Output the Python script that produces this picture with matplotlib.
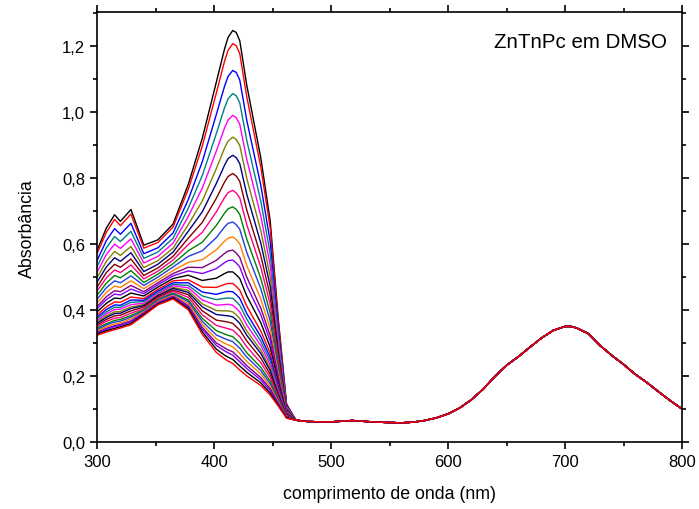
import matplotlib
matplotlib.use('Agg')
import matplotlib.pyplot as plt
import numpy as np
from matplotlib.ticker import MultipleLocator, FuncFormatter

plt.rcParams['font.family'] = ['Liberation Sans', 'DejaVu Sans']

# wavelengths (nm) where the 30 spectra differ (Soret / UV region)
wl_uv = [300, 308, 315, 320, 329, 340, 352, 365, 378, 390,
         402, 409, 412, 416, 419, 422, 428, 440, 448, 455, 462]

# absorbance of spectra 1..30 at each UV wavelength
abs_300 = [0.580, 0.570, 0.549, 0.531, 0.514, 0.498, 0.484, 0.469, 0.457, 0.444,
           0.432, 0.421, 0.410, 0.403, 0.394, 0.385, 0.378, 0.373, 0.368, 0.363,
           0.359, 0.354, 0.349, 0.344, 0.340, 0.336, 0.332, 0.329, 0.326, 0.323]
abs_308 = [0.648, 0.635, 0.610, 0.588, 0.568, 0.547, 0.530, 0.513, 0.497, 0.481,
           0.467, 0.453, 0.440, 0.431, 0.420, 0.409, 0.401, 0.394, 0.388, 0.382,
           0.377, 0.371, 0.365, 0.358, 0.354, 0.349, 0.344, 0.341, 0.337, 0.333]
abs_315 = [0.688, 0.674, 0.646, 0.622, 0.599, 0.577, 0.558, 0.538, 0.521, 0.504,
           0.488, 0.472, 0.458, 0.448, 0.436, 0.424, 0.415, 0.408, 0.401, 0.394,
           0.389, 0.382, 0.375, 0.368, 0.363, 0.357, 0.352, 0.349, 0.344, 0.340]
abs_320 = [0.668, 0.655, 0.629, 0.607, 0.586, 0.565, 0.547, 0.529, 0.513, 0.497,
           0.482, 0.468, 0.455, 0.445, 0.434, 0.423, 0.414, 0.408, 0.402, 0.395,
           0.390, 0.384, 0.377, 0.371, 0.366, 0.361, 0.356, 0.353, 0.349, 0.345]
abs_329 = [0.704, 0.690, 0.662, 0.638, 0.615, 0.592, 0.573, 0.554, 0.536, 0.519,
           0.503, 0.488, 0.474, 0.463, 0.451, 0.439, 0.430, 0.423, 0.416, 0.409,
           0.404, 0.397, 0.390, 0.383, 0.378, 0.373, 0.367, 0.364, 0.359, 0.355]
abs_340 = [0.596, 0.587, 0.570, 0.556, 0.542, 0.528, 0.516, 0.504, 0.494, 0.483,
           0.474, 0.464, 0.455, 0.449, 0.442, 0.434, 0.429, 0.425, 0.420, 0.416,
           0.413, 0.409, 0.404, 0.400, 0.397, 0.394, 0.391, 0.388, 0.386, 0.383]
abs_352 = [0.612, 0.604, 0.588, 0.575, 0.562, 0.549, 0.538, 0.527, 0.517, 0.508,
           0.499, 0.490, 0.482, 0.476, 0.469, 0.462, 0.457, 0.453, 0.450, 0.446,
           0.443, 0.439, 0.435, 0.431, 0.428, 0.425, 0.422, 0.420, 0.417, 0.415]
abs_365 = [0.660, 0.651, 0.633, 0.617, 0.602, 0.587, 0.575, 0.562, 0.551, 0.540,
           0.530, 0.519, 0.510, 0.503, 0.495, 0.488, 0.482, 0.477, 0.473, 0.468,
           0.465, 0.460, 0.456, 0.451, 0.448, 0.444, 0.441, 0.439, 0.436, 0.433]
abs_378 = [0.780, 0.765, 0.734, 0.708, 0.683, 0.658, 0.638, 0.617, 0.598, 0.579,
           0.562, 0.544, 0.529, 0.518, 0.505, 0.491, 0.482, 0.474, 0.467, 0.459,
           0.453, 0.446, 0.438, 0.430, 0.425, 0.419, 0.413, 0.410, 0.405, 0.400]
abs_390 = [0.920, 0.896, 0.849, 0.807, 0.769, 0.730, 0.697, 0.665, 0.635, 0.605,
           0.579, 0.552, 0.528, 0.510, 0.489, 0.469, 0.454, 0.442, 0.430, 0.418,
           0.409, 0.397, 0.385, 0.374, 0.365, 0.356, 0.347, 0.341, 0.333, 0.326]
abs_402 = [1.090, 1.057, 0.992, 0.934, 0.881, 0.828, 0.783, 0.738, 0.697, 0.656,
           0.619, 0.582, 0.550, 0.525, 0.496, 0.468, 0.447, 0.431, 0.414, 0.398,
           0.386, 0.369, 0.353, 0.337, 0.324, 0.312, 0.300, 0.292, 0.281, 0.271]
abs_409 = [1.190, 1.153, 1.077, 1.012, 0.951, 0.890, 0.838, 0.787, 0.740, 0.693,
           0.651, 0.608, 0.571, 0.543, 0.510, 0.477, 0.454, 0.435, 0.416, 0.397,
           0.383, 0.365, 0.346, 0.327, 0.313, 0.299, 0.285, 0.276, 0.263, 0.252]
abs_412 = [1.225, 1.186, 1.107, 1.039, 0.975, 0.911, 0.858, 0.804, 0.755, 0.706,
           0.662, 0.617, 0.578, 0.549, 0.515, 0.480, 0.456, 0.436, 0.417, 0.397,
           0.382, 0.363, 0.343, 0.323, 0.309, 0.294, 0.279, 0.270, 0.257, 0.245]
abs_416 = [1.246, 1.206, 1.125, 1.055, 0.989, 0.923, 0.868, 0.813, 0.762, 0.712,
           0.666, 0.621, 0.581, 0.551, 0.515, 0.480, 0.455, 0.435, 0.414, 0.394,
           0.379, 0.359, 0.339, 0.319, 0.304, 0.288, 0.273, 0.263, 0.250, 0.238]
abs_419 = [1.240, 1.200, 1.119, 1.048, 0.982, 0.916, 0.861, 0.805, 0.754, 0.704,
           0.658, 0.613, 0.572, 0.542, 0.506, 0.471, 0.446, 0.425, 0.405, 0.385,
           0.370, 0.349, 0.329, 0.309, 0.294, 0.279, 0.263, 0.253, 0.240, 0.228]
abs_422 = [1.215, 1.176, 1.096, 1.027, 0.962, 0.898, 0.843, 0.789, 0.739, 0.689,
           0.644, 0.600, 0.559, 0.530, 0.495, 0.460, 0.435, 0.414, 0.394, 0.374,
           0.359, 0.339, 0.319, 0.299, 0.284, 0.268, 0.253, 0.243, 0.230, 0.218]
abs_428 = [1.080, 1.045, 0.974, 0.913, 0.856, 0.798, 0.750, 0.702, 0.658, 0.614,
           0.574, 0.534, 0.499, 0.473, 0.442, 0.411, 0.389, 0.372, 0.354, 0.336,
           0.323, 0.306, 0.288, 0.270, 0.257, 0.244, 0.231, 0.222, 0.211, 0.200]
abs_440 = [0.860, 0.832, 0.777, 0.729, 0.684, 0.640, 0.602, 0.564, 0.529, 0.495,
           0.464, 0.433, 0.405, 0.385, 0.361, 0.336, 0.319, 0.305, 0.292, 0.278,
           0.268, 0.254, 0.240, 0.226, 0.216, 0.206, 0.195, 0.188, 0.179, 0.171]
abs_448 = [0.670, 0.649, 0.607, 0.570, 0.535, 0.501, 0.472, 0.443, 0.417, 0.390,
           0.366, 0.343, 0.322, 0.306, 0.287, 0.269, 0.256, 0.245, 0.234, 0.224,
           0.216, 0.205, 0.195, 0.184, 0.176, 0.168, 0.161, 0.155, 0.148, 0.142]
abs_455 = [0.370, 0.360, 0.339, 0.320, 0.303, 0.286, 0.272, 0.257, 0.244, 0.231,
           0.219, 0.208, 0.197, 0.189, 0.180, 0.171, 0.164, 0.159, 0.154, 0.149,
           0.145, 0.139, 0.134, 0.129, 0.125, 0.121, 0.117, 0.115, 0.111, 0.108]
abs_462 = [0.115, 0.113, 0.110, 0.107, 0.104, 0.101, 0.099, 0.097, 0.094, 0.092,
           0.090, 0.088, 0.087, 0.085, 0.084, 0.082, 0.081, 0.080, 0.080, 0.079,
           0.078, 0.077, 0.076, 0.075, 0.075, 0.074, 0.074, 0.073, 0.073, 0.072]

# visible region: all spectra overlap (Q band)
wl_vis = [470, 480, 490, 500, 510, 518, 530, 540, 550, 560, 570, 580, 590, 600,
          610, 620, 630, 640, 650, 660, 670, 680, 690, 700, 705, 710, 720, 730,
          740, 750, 760, 770, 780, 790, 800]
abs_vis = [0.066, 0.062, 0.061, 0.061, 0.063, 0.065, 0.062, 0.060, 0.059, 0.058,
           0.060, 0.065, 0.073, 0.085, 0.103, 0.128, 0.160, 0.198, 0.232, 0.258,
           0.287, 0.315, 0.338, 0.350, 0.350, 0.345, 0.328, 0.292, 0.262, 0.235,
           0.205, 0.180, 0.152, 0.125, 0.100]

# Origin-like colour cycle
colors = ['#000000', '#FF0000', '#0000FF', '#008080', '#FF00FF', '#808000',
          '#000080', '#800000', '#FF0080', '#008000', '#2040E0', '#FF8000',
          '#800080', '#8000FF']

uv = np.column_stack([abs_300, abs_308, abs_315, abs_320, abs_329, abs_340,
                      abs_352, abs_365, abs_378, abs_390, abs_402, abs_409,
                      abs_412, abs_416, abs_419, abs_422, abs_428, abs_440,
                      abs_448, abs_455, abs_462])
wl = np.concatenate([wl_uv, wl_vis])

fig = plt.figure(figsize=(6.99, 5.10), dpi=100)
ax = fig.add_axes([0.1388, 0.1314, 0.8369, 0.8425])

for k in range(uv.shape[0]):
    spectrum = np.concatenate([uv[k], abs_vis])
    ax.plot(wl, spectrum, color=colors[k % len(colors)], lw=1.0)

ax.set_xlim(300, 800)
ax.set_ylim(0, 1.301)
ax.xaxis.set_major_locator(MultipleLocator(100))
ax.xaxis.set_minor_locator(MultipleLocator(50))
ax.yaxis.set_major_locator(MultipleLocator(0.2))
ax.yaxis.set_minor_locator(MultipleLocator(0.1))
ax.yaxis.set_major_formatter(FuncFormatter(lambda v, p: ('%.1f' % v).replace('.', ',')))

ax.tick_params(which='both', direction='out', top=True, right=True,
               labelsize=12, width=1.2)
ax.tick_params(which='major', length=5)
ax.tick_params(which='minor', length=3)
for s in ax.spines.values():
    s.set_linewidth(1.2)

ax.set_xlabel('comprimento de onda (nm)', fontsize=12.8, labelpad=12)
ax.set_ylabel('Absorbância', fontsize=12.8, labelpad=19)
ax.text(0.975, 0.955, 'ZnTnPc em DMSO', transform=ax.transAxes,
        ha='right', va='top', fontsize=14.8)

fig.savefig('out.png', dpi=100)
